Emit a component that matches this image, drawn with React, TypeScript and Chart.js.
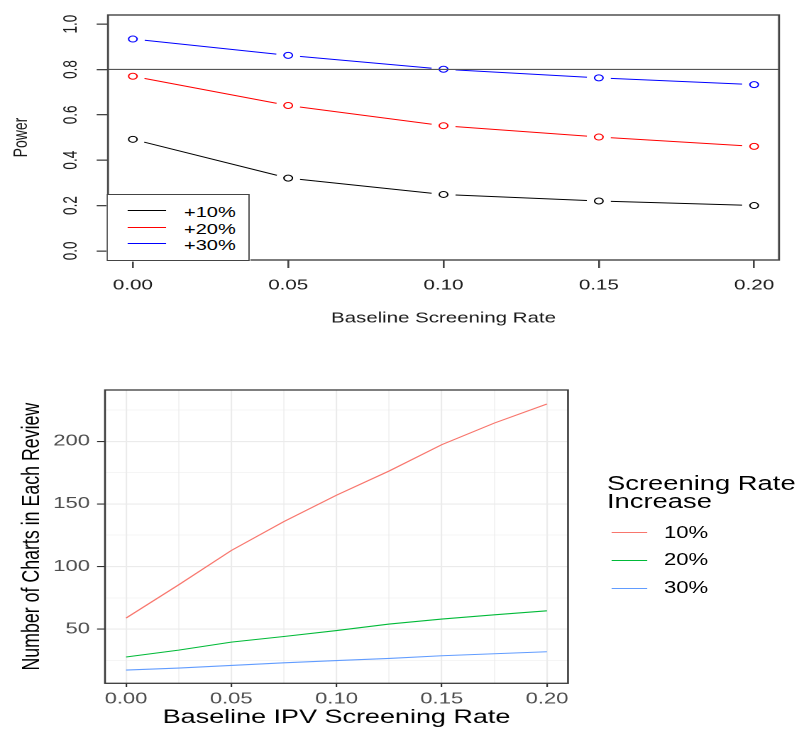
import React, { useEffect, useRef } from "react";
import { Chart, registerables } from "chart.js";

Chart.register(...registerables);

// ---------------- data: top chart (power) ----------------
const POWER_X = [0, 0.05, 0.1, 0.15, 0.2];
const POWER_10 = [0.492, 0.321, 0.249, 0.22, 0.2];
const POWER_20 = [0.77, 0.641, 0.552, 0.502, 0.461];
const POWER_30 = [0.934, 0.862, 0.801, 0.763, 0.733];
const POWER_LABELS = ["+10%", "+20%", "+30%"];
const POWER_THRESHOLD = 0.8;
const POWER_X_TICKS = [0, 0.05, 0.1, 0.15, 0.2];
const POWER_Y_TICKS = [0, 0.2, 0.4, 0.6, 0.8, 1.0];

// ---------------- data: bottom chart (number of charts) ----------------
const CHARTS_X = [0, 0.025, 0.05, 0.075, 0.1, 0.125, 0.15, 0.175, 0.2];
const CHARTS_10 = [58.8, 85.4, 112.8, 135.9, 157, 176.3, 197.3, 214.6, 229.8];
const CHARTS_20 = [27.7, 33.2, 39.6, 44.1, 48.8, 54, 58, 61.4, 64.6];
const CHARTS_30 = [17.3, 18.9, 21, 23.1, 24.9, 26.6, 28.7, 30.3, 31.9];
const CHARTS_LABELS = ["10%", "20%", "30%"];
const CHARTS_X_MAJOR = [0, 0.05, 0.1, 0.15, 0.2];
const CHARTS_X_MINOR = [0.025, 0.075, 0.125, 0.175];
const CHARTS_Y_MAJOR = [50, 100, 150, 200];
const CHARTS_Y_MINOR = [25, 75, 125, 175, 225];

// ---------------- layout (reference is stretched horizontally) ----------------
const DW = 563;
const S = 799 / DW;
const hx = (X: number) => X / S;
const FONT = '"Liberation Sans", Arial, Helvetica, sans-serif';

const TOP_H = 340;
const TOP_AREA = { left: hx(108), right: hx(779), top: 15, bottom: 260 };
const BOT_OFF = 345;
const BOT_H = 384;
const BOT_AREA = { left: hx(105), right: hx(568), top: 390 - BOT_OFF, bottom: 683.3 - BOT_OFF };

const TOP_COLORS = ["#000000", "#FF0000", "#0000FF"];
const BOT_COLORS = ["#F8766D", "#00BA38", "#619CFF"];

const near = (list: number[], v: number) => list.some((m) => Math.abs(m - v) < 1e-9);

const boxPlugin = (id: string, color: string, width: number) => ({
  id,
  afterDatasetsDraw(chart: any) {
    const { ctx, chartArea: a } = chart;
    ctx.save();
    ctx.strokeStyle = color;
    ctx.lineWidth = width;
    ctx.strokeRect(a.left, a.top, a.right - a.left, a.bottom - a.top);
    ctx.restore();
  },
});

const zeroPad = (s: any) => {
  s.paddingTop = 0;
  s.paddingBottom = 0;
  s.paddingLeft = 0;
  s.paddingRight = 0;
};

const pts = (xs: number[], ys: number[]) => xs.map((x, i) => ({ x, y: ys[i] }));

export default function App() {
  const topRef = useRef<HTMLCanvasElement>(null);
  const botRef = useRef<HTMLCanvasElement>(null);

  useEffect(() => {
    Chart.defaults.font.family = FONT;
    const topSeries = [POWER_10, POWER_20, POWER_30];
    const xMin = -0.008;
    const xMax = 0.208;

    const top = new Chart(topRef.current as HTMLCanvasElement, {
      type: "line",
      data: {
        datasets: [
          {
            label: "threshold",
            data: [
              { x: xMin, y: POWER_THRESHOLD },
              { x: xMax, y: POWER_THRESHOLD },
            ],
            borderColor: "#555555",
            borderWidth: 1.2,
            pointRadius: 0,
            order: 0,
          } as any,
          ...topSeries.map((vals, i) => ({
            label: POWER_LABELS[i] + " points",
            data: pts(POWER_X, vals),
            showLine: false,
            pointRadius: 3,
            pointBorderWidth: 1,
            pointBorderColor: TOP_COLORS[i],
            pointBackgroundColor: "rgba(0,0,0,0)",
            order: 1,
          })),
          ...topSeries.map((vals, i) => ({
            label: POWER_LABELS[i],
            data: pts(POWER_X, vals),
            borderColor: TOP_COLORS[i],
            borderWidth: 1,
            pointRadius: 8.5,
            pointBorderWidth: 0,
            pointBorderColor: "#ffffff",
            pointBackgroundColor: "#ffffff",
            tension: 0,
            order: 2,
          })),
        ],
      },
      options: {
        responsive: false,
        animation: false,
        devicePixelRatio: 2,
        events: [],
        layout: { padding: { left: 0, top: TOP_AREA.top, right: DW - TOP_AREA.right, bottom: 0 } },
        plugins: { legend: { display: false }, tooltip: { enabled: false } },
        scales: {
          x: {
            type: "linear",
            min: xMin,
            max: xMax,
            afterBuildTicks: (s: any) => {
              s.ticks = POWER_X_TICKS.map((v) => ({ value: v }));
            },
            afterFit: (s: any) => {
              s.height = TOP_H - TOP_AREA.bottom;
              zeroPad(s);
            },
            ticks: {
              autoSkip: false,
              maxRotation: 0,
              padding: 8.6,
              color: "#1a1a1a",
              font: { size: 14.5, family: FONT },
              callback: (v: any) => Number(v).toFixed(2),
            },
            grid: { drawOnChartArea: false, drawTicks: true, tickLength: 8, color: "#444444", lineWidth: 1.3 },
            border: { display: false },
            title: {
              display: true,
              text: "Baseline Screening Rate",
              color: "#1a1a1a",
              font: { size: 14.4, family: FONT },
              padding: { top: 0, bottom: 12.7 },
            },
          },
          y: {
            type: "linear",
            min: -0.04,
            max: 1.04,
            afterBuildTicks: (s: any) => {
              s.ticks = POWER_Y_TICKS.map((v) => ({ value: v }));
            },
            afterFit: (s: any) => {
              s.width = TOP_AREA.left;
              zeroPad(s);
            },
            ticks: {
              autoSkip: false,
              minRotation: 90,
              maxRotation: 90,
              crossAlign: "center",
              padding: 8.6,
              color: "#1a1a1a",
              font: { size: 13.5, family: FONT },
              callback: (v: any) => Number(v).toFixed(1),
            },
            grid: { drawOnChartArea: false, drawTicks: true, tickLength: 8, color: "#444444", lineWidth: 1.3 },
            border: { display: false },
            title: {
              display: true,
              text: "Power",
              color: "#1a1a1a",
              font: { size: 14, family: FONT },
              padding: { top: 6.9, bottom: 0 },
            },
          },
        },
      } as any,
      plugins: [boxPlugin("topBox", "#444444", 1.4)],
    });

    const botSeries = [CHARTS_10, CHARTS_20, CHARTS_30];
    const xTicks = [...CHARTS_X_MAJOR, ...CHARTS_X_MINOR].sort((a, b) => a - b);
    const yTicks = [...CHARTS_Y_MAJOR, ...CHARTS_Y_MINOR].sort((a, b) => a - b);

    const bot = new Chart(botRef.current as HTMLCanvasElement, {
      type: "line",
      data: {
        datasets: botSeries.map((vals, i) => ({
          label: CHARTS_LABELS[i],
          data: pts(CHARTS_X, vals),
          borderColor: BOT_COLORS[i],
          borderWidth: 1.1,
          pointRadius: 0,
          tension: 0,
        })),
      },
      options: {
        responsive: false,
        animation: false,
        devicePixelRatio: 2,
        events: [],
        layout: { padding: { left: 0, top: BOT_AREA.top, right: DW - BOT_AREA.right, bottom: 0 } },
        plugins: { legend: { display: false }, tooltip: { enabled: false } },
        scales: {
          x: {
            type: "linear",
            min: -0.01,
            max: 0.21,
            afterBuildTicks: (s: any) => {
              s.ticks = xTicks.map((v) => ({ value: v }));
            },
            afterFit: (s: any) => {
              s.height = BOT_H - BOT_AREA.bottom;
              zeroPad(s);
            },
            ticks: {
              autoSkip: false,
              maxRotation: 0,
              padding: 2.7,
              color: "#4D4D4D",
              font: { size: 15.5, family: FONT },
              callback: (v: any) => (near(CHARTS_X_MAJOR, Number(v)) ? Number(v).toFixed(2) : ""),
            },
            grid: {
              drawOnChartArea: true,
              drawTicks: true,
              tickLength: 3.7,
              color: "#EBEBEB",
              lineWidth: (c: any) => (near(CHARTS_X_MAJOR, c.tick ? c.tick.value : NaN) ? 1.1 : 0.6),
              tickColor: (c: any) =>
                near(CHARTS_X_MAJOR, c.tick ? c.tick.value : NaN) ? "#333333" : "rgba(0,0,0,0)",
              tickWidth: 1.1,
            },
            border: { display: false },
            title: {
              display: true,
              text: "Baseline IPV Screening Rate",
              color: "#000000",
              font: { size: 19, family: FONT },
              padding: { top: 0, bottom: 0 },
            },
          },
          y: {
            type: "linear",
            min: 6.7,
            max: 241,
            afterBuildTicks: (s: any) => {
              s.ticks = yTicks.map((v) => ({ value: v }));
            },
            afterFit: (s: any) => {
              s.width = BOT_AREA.left;
              zeroPad(s);
            },
            ticks: {
              autoSkip: false,
              padding: 5,
              color: "#4D4D4D",
              font: { size: 15.5, family: FONT },
              callback: (v: any) => (near(CHARTS_Y_MAJOR, Number(v)) ? String(v) : ""),
            },
            grid: {
              drawOnChartArea: true,
              drawTicks: true,
              tickLength: 5.6,
              color: "#EBEBEB",
              lineWidth: (c: any) => (near(CHARTS_Y_MAJOR, c.tick ? c.tick.value : NaN) ? 1.1 : 0.6),
              tickColor: (c: any) =>
                near(CHARTS_Y_MAJOR, c.tick ? c.tick.value : NaN) ? "#333333" : "rgba(0,0,0,0)",
              tickWidth: 1.1,
            },
            border: { display: false },
            title: {
              display: true,
              text: "Number of Charts in Each Review",
              color: "#000000",
              font: { size: 17.8, family: FONT },
              padding: { top: 12, bottom: 0 },
            },
          },
        },
      } as any,
      plugins: [boxPlugin("botBox", "#3a3a3a", 1.3)],
    });

    return () => {
      top.destroy();
      bot.destroy();
    };
  }, []);

  const txt = (left: number, center: number, size: number, text: string, key: string) => (
    <div
      key={key}
      style={{
        position: "absolute",
        left,
        top: center - size / 2,
        fontSize: size,
        lineHeight: `${size}px`,
        whiteSpace: "nowrap",
        color: "#000",
      }}
    >
      {text}
    </div>
  );
  const seg = (left: number, width: number, center: number, color: string, key: string) => (
    <div
      key={key}
      style={{ position: "absolute", left, width, top: center - 0.5, height: 1.1, background: color }}
    />
  );

  const topLegY = [210.7, 227, 243.7];
  const topTxtY = [212, 228.6, 244.8];
  const botLegY = [532.3, 560.3, 588.3];
  const botTxtY = [532.5, 560.1, 588.2];

  return (
    <div style={{ position: "absolute", left: 0, top: 0, width: 799, height: 729, overflow: "hidden", background: "#fff" }}>
      <div
        style={{
          position: "absolute",
          left: 0,
          top: 0,
          width: DW,
          height: 729,
          transform: `scaleX(${S})`,
          transformOrigin: "0 0",
          fontFamily: FONT,
        }}
      >
        <div style={{ position: "absolute", left: 0, top: 0, width: DW, height: TOP_H }}>
          <canvas ref={topRef} width={DW} height={TOP_H} />
        </div>
        <div style={{ position: "absolute", left: 0, top: BOT_OFF, width: DW, height: BOT_H }}>
          <canvas ref={botRef} width={DW} height={BOT_H} />
        </div>

        {/* top legend (bottom-left, inside the plot box) */}
        <div
          style={{
            position: "absolute",
            left: TOP_AREA.left - 0.7,
            top: 195 - 0.7,
            width: hx(248.3) - TOP_AREA.left + 1.4,
            height: TOP_AREA.bottom - 195 + 1.4,
            border: "1.4px solid #444",
            boxSizing: "border-box",
            background: "#fff",
          }}
        />
        {POWER_LABELS.map((l, i) => seg(hx(128.3), hx(166) - hx(128.3), topLegY[i], TOP_COLORS[i], "tl" + i))}
        {POWER_LABELS.map((l, i) => txt(hx(184), topTxtY[i], 14.1, l, "tt" + i))}

        {/* bottom legend */}
        {txt(hx(607), 483.3, 19.3, "Screening Rate", "bt0")}
        {txt(hx(607), 501.5, 19.3, "Increase", "bt1")}
        {CHARTS_LABELS.map((l, i) => seg(hx(611.7), hx(646.7) - hx(611.7), botLegY[i], BOT_COLORS[i], "bl" + i))}
        {CHARTS_LABELS.map((l, i) => txt(hx(664), botTxtY[i], 15.6, l, "bx" + i))}
      </div>
    </div>
  );
}
